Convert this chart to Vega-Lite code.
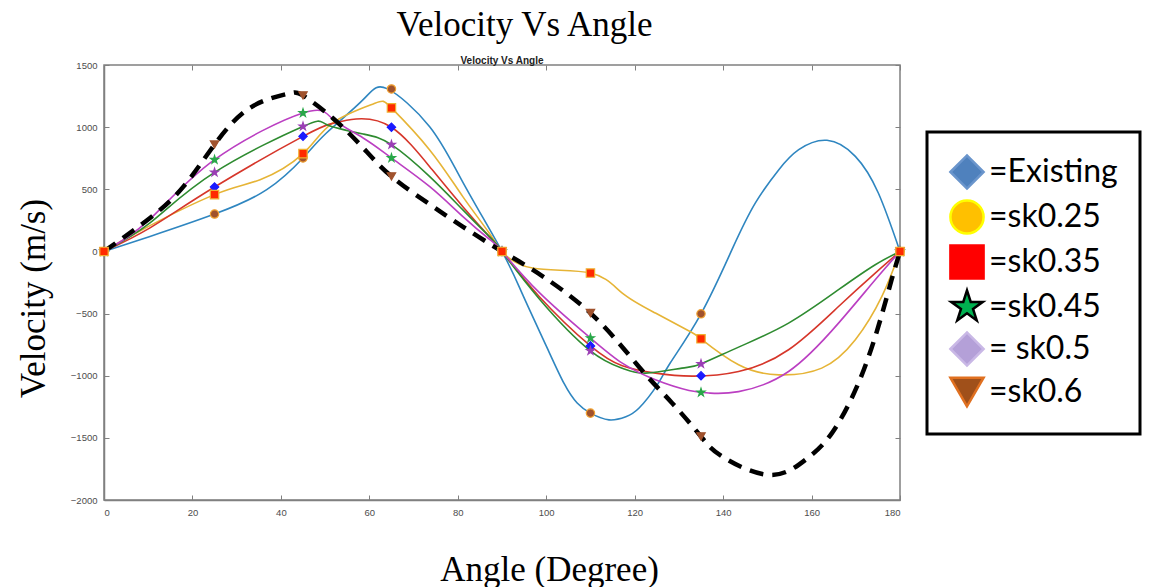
{
  "$schema": "https://vega.github.io/schema/vega-lite/v6.json",
  "width": 796,
  "height": 435,
  "autosize": "none",
  "padding": {"left": 104, "top": 65, "right": 260, "bottom": 87},
  "background": "white",
  "title": {
    "text": "Velocity Vs Angle",
    "font": "Liberation Sans",
    "fontSize": 10,
    "fontWeight": "bold",
    "color": "#222222",
    "offset": -69,
    "baseline": "bottom"
  },
  "config": {
    "view": {"stroke": "#808080", "strokeWidth": 1.5},
    "axis": {
      "domainColor": "#808080",
      "domainWidth": 1.5,
      "tickColor": "#808080",
      "tickWidth": 1,
      "tickSize": -5,
      "grid": false,
      "labelFont": "Liberation Sans",
      "labelFontSize": 9.5,
      "labelColor": "#4d4d4d",
      "labelPadding": 12,
      "titleFont": "Liberation Serif",
      "titleFontSize": 35,
      "titleFontWeight": "normal",
      "titleColor": "#000000"
    },
    "legend": {"strokeWidth": 3}
  },
  "datasets": {
    "lines": [
      {"curve": "blue", "angle": 0, "v": 0}, {"curve": "blue", "angle": 10.4, "v": 121}, {"curve": "blue", "angle": 25, "v": 301}, {"curve": "blue", "angle": 36.8, "v": 497}, {"curve": "blue", "angle": 45, "v": 752}, {"curve": "blue", "angle": 50.3, "v": 953}, {"curve": "blue", "angle": 58.6, "v": 1221}, {"curve": "blue", "angle": 64, "v": 1310}, {"curve": "blue", "angle": 73.6, "v": 1006}, {"curve": "blue", "angle": 81.1, "v": 560}, {"curve": "blue", "angle": 90, "v": 0}, {"curve": "blue", "angle": 94.7, "v": -350}, {"curve": "blue", "angle": 100, "v": -760}, {"curve": "blue", "angle": 104, "v": -1060}, {"curve": "blue", "angle": 107, "v": -1220}, {"curve": "blue", "angle": 110, "v": -1301}, {"curve": "blue", "angle": 114.2, "v": -1355}, {"curve": "blue", "angle": 118, "v": -1330}, {"curve": "blue", "angle": 121, "v": -1260}, {"curve": "blue", "angle": 125, "v": -1080}, {"curve": "blue", "angle": 128, "v": -900}, {"curve": "blue", "angle": 135, "v": -502}, {"curve": "blue", "angle": 142, "v": 14}, {"curve": "blue", "angle": 147.3, "v": 390}, {"curve": "blue", "angle": 152.6, "v": 658}, {"curve": "blue", "angle": 157.1, "v": 819}, {"curve": "blue", "angle": 163.5, "v": 894}, {"curve": "blue", "angle": 169.9, "v": 765}, {"curve": "blue", "angle": 175.1, "v": 470}, {"curve": "blue", "angle": 180, "v": 0},
      {"curve": "yellow", "angle": 0, "v": 0}, {"curve": "yellow", "angle": 7.9, "v": 161}, {"curve": "yellow", "angle": 25, "v": 457}, {"curve": "yellow", "angle": 35.3, "v": 577}, {"curve": "yellow", "angle": 45, "v": 787}, {"curve": "yellow", "angle": 51.7, "v": 1034}, {"curve": "yellow", "angle": 61, "v": 1189}, {"curve": "yellow", "angle": 65, "v": 1155}, {"curve": "yellow", "angle": 73.6, "v": 819}, {"curve": "yellow", "angle": 81.1, "v": 443}, {"curve": "yellow", "angle": 87.1, "v": 148}, {"curve": "yellow", "angle": 90, "v": 0}, {"curve": "yellow", "angle": 96.9, "v": -134}, {"curve": "yellow", "angle": 110, "v": -174}, {"curve": "yellow", "angle": 117.2, "v": -335}, {"curve": "yellow", "angle": 124.7, "v": -496}, {"curve": "yellow", "angle": 132.3, "v": -640}, {"curve": "yellow", "angle": 135, "v": -703}, {"curve": "yellow", "angle": 143.5, "v": -912}, {"curve": "yellow", "angle": 152.6, "v": -993}, {"curve": "yellow", "angle": 162.3, "v": -939}, {"curve": "yellow", "angle": 169.9, "v": -711}, {"curve": "yellow", "angle": 175.9, "v": -362}, {"curve": "yellow", "angle": 180, "v": 0},
      {"curve": "red", "angle": 0, "v": 0}, {"curve": "red", "angle": 10.4, "v": 190}, {"curve": "red", "angle": 25, "v": 518}, {"curve": "red", "angle": 45, "v": 926}, {"curve": "red", "angle": 51.7, "v": 1030}, {"curve": "red", "angle": 57, "v": 1066}, {"curve": "red", "angle": 65, "v": 999}, {"curve": "red", "angle": 73.6, "v": 684}, {"curve": "red", "angle": 81.1, "v": 362}, {"curve": "red", "angle": 87.1, "v": 121}, {"curve": "red", "angle": 90, "v": 0}, {"curve": "red", "angle": 98.4, "v": -362}, {"curve": "red", "angle": 110, "v": -760}, {"curve": "red", "angle": 117.2, "v": -920}, {"curve": "red", "angle": 124.7, "v": -979}, {"curve": "red", "angle": 133, "v": -1003}, {"curve": "red", "angle": 143.5, "v": -966}, {"curve": "red", "angle": 154.8, "v": -791}, {"curve": "red", "angle": 166.1, "v": -443}, {"curve": "red", "angle": 174.4, "v": -174}, {"curve": "red", "angle": 180, "v": 0},
      {"curve": "green", "angle": 0, "v": 0}, {"curve": "green", "angle": 10.4, "v": 230}, {"curve": "green", "angle": 25, "v": 636}, {"curve": "green", "angle": 45, "v": 1006}, {"curve": "green", "angle": 50.3, "v": 1022}, {"curve": "green", "angle": 58.6, "v": 945}, {"curve": "green", "angle": 65, "v": 859}, {"curve": "green", "angle": 73.6, "v": 604}, {"curve": "green", "angle": 81.1, "v": 336}, {"curve": "green", "angle": 87.1, "v": 121}, {"curve": "green", "angle": 90, "v": 0}, {"curve": "green", "angle": 98.4, "v": -380}, {"curve": "green", "angle": 110, "v": -800}, {"curve": "green", "angle": 117.2, "v": -939}, {"curve": "green", "angle": 122.5, "v": -979}, {"curve": "green", "angle": 130.7, "v": -939}, {"curve": "green", "angle": 135, "v": -905}, {"curve": "green", "angle": 143.5, "v": -770}, {"curve": "green", "angle": 154.8, "v": -577}, {"curve": "green", "angle": 166.1, "v": -308}, {"curve": "green", "angle": 174.4, "v": -107}, {"curve": "green", "angle": 180, "v": 0},
      {"curve": "magenta", "angle": 0, "v": 0}, {"curve": "magenta", "angle": 10.4, "v": 260}, {"curve": "magenta", "angle": 25, "v": 738}, {"curve": "magenta", "angle": 45, "v": 1114}, {"curve": "magenta", "angle": 51.7, "v": 1066}, {"curve": "magenta", "angle": 58.6, "v": 913}, {"curve": "magenta", "angle": 65, "v": 752}, {"curve": "magenta", "angle": 73.6, "v": 523}, {"curve": "magenta", "angle": 81.1, "v": 282}, {"curve": "magenta", "angle": 87.1, "v": 100}, {"curve": "magenta", "angle": 90, "v": 0}, {"curve": "magenta", "angle": 98.4, "v": -330}, {"curve": "magenta", "angle": 110, "v": -697}, {"curve": "magenta", "angle": 117.2, "v": -899}, {"curve": "magenta", "angle": 124.7, "v": -1033}, {"curve": "magenta", "angle": 132.3, "v": -1119}, {"curve": "magenta", "angle": 137, "v": -1140}, {"curve": "magenta", "angle": 143.5, "v": -1128}, {"curve": "magenta", "angle": 154.8, "v": -966}, {"curve": "magenta", "angle": 166.1, "v": -577}, {"curve": "magenta", "angle": 174.4, "v": -228}, {"curve": "magenta", "angle": 180, "v": 0},
      {"curve": "black", "angle": 0, "v": 0}, {"curve": "black", "angle": 10.4, "v": 269}, {"curve": "black", "angle": 18, "v": 523}, {"curve": "black", "angle": 25, "v": 860}, {"curve": "black", "angle": 33, "v": 1155}, {"curve": "black", "angle": 41.5, "v": 1268}, {"curve": "black", "angle": 45, "v": 1255}, {"curve": "black", "angle": 51.7, "v": 1074}, {"curve": "black", "angle": 58.6, "v": 833}, {"curve": "black", "angle": 65, "v": 604}, {"curve": "black", "angle": 73.6, "v": 380}, {"curve": "black", "angle": 81.1, "v": 200}, {"curve": "black", "angle": 90, "v": 0}, {"curve": "black", "angle": 96.9, "v": -147}, {"curve": "black", "angle": 110, "v": -496}, {"curve": "black", "angle": 121, "v": -930}, {"curve": "black", "angle": 128.5, "v": -1221}, {"curve": "black", "angle": 135, "v": -1489}, {"curve": "black", "angle": 139.8, "v": -1650}, {"curve": "black", "angle": 150.3, "v": -1798}, {"curve": "black", "angle": 158.6, "v": -1677}, {"curve": "black", "angle": 164.6, "v": -1462}, {"curve": "black", "angle": 170.6, "v": -1060}, {"curve": "black", "angle": 175.1, "v": -604}, {"curve": "black", "angle": 178.1, "v": -228}, {"curve": "black", "angle": 180, "v": 0}
    ],
    "markers": [
      {"series": "Existing", "angle": 0, "v": 0}, {"series": "Existing", "angle": 25, "v": 518}, {"series": "Existing", "angle": 45, "v": 926}, {"series": "Existing", "angle": 65, "v": 999}, {"series": "Existing", "angle": 90, "v": 0}, {"series": "Existing", "angle": 110, "v": -760}, {"series": "Existing", "angle": 135, "v": -1001}, {"series": "Existing", "angle": 180, "v": 0},
      {"series": "sk0.45", "angle": 0, "v": 0}, {"series": "sk0.45", "angle": 25, "v": 738}, {"series": "sk0.45", "angle": 45, "v": 1114}, {"series": "sk0.45", "angle": 65, "v": 752}, {"series": "sk0.45", "angle": 90, "v": 0}, {"series": "sk0.45", "angle": 110, "v": -697}, {"series": "sk0.45", "angle": 135, "v": -1135}, {"series": "sk0.45", "angle": 180, "v": 0},
      {"series": "sk0.5", "angle": 0, "v": 0}, {"series": "sk0.5", "angle": 25, "v": 636}, {"series": "sk0.5", "angle": 45, "v": 1006}, {"series": "sk0.5", "angle": 65, "v": 859}, {"series": "sk0.5", "angle": 90, "v": 0}, {"series": "sk0.5", "angle": 110, "v": -800}, {"series": "sk0.5", "angle": 135, "v": -905}, {"series": "sk0.5", "angle": 180, "v": 0},
      {"series": "sk0.6", "angle": 0, "v": 0}, {"series": "sk0.6", "angle": 25, "v": 860}, {"series": "sk0.6", "angle": 45, "v": 1255}, {"series": "sk0.6", "angle": 65, "v": 604}, {"series": "sk0.6", "angle": 90, "v": 0}, {"series": "sk0.6", "angle": 110, "v": -496}, {"series": "sk0.6", "angle": 135, "v": -1489}, {"series": "sk0.6", "angle": 180, "v": 0},
      {"series": "sk0.25", "angle": 0, "v": 0}, {"series": "sk0.25", "angle": 25, "v": 301}, {"series": "sk0.25", "angle": 45, "v": 752}, {"series": "sk0.25", "angle": 65, "v": 1307}, {"series": "sk0.25", "angle": 90, "v": 0}, {"series": "sk0.25", "angle": 110, "v": -1301}, {"series": "sk0.25", "angle": 135, "v": -502}, {"series": "sk0.25", "angle": 180, "v": 0},
      {"series": "sk0.35", "angle": 0, "v": 0}, {"series": "sk0.35", "angle": 25, "v": 457}, {"series": "sk0.35", "angle": 45, "v": 787}, {"series": "sk0.35", "angle": 65, "v": 1155}, {"series": "sk0.35", "angle": 90, "v": 0}, {"series": "sk0.35", "angle": 110, "v": -174}, {"series": "sk0.35", "angle": 135, "v": -703}, {"series": "sk0.35", "angle": 180, "v": 0}
    ]
  },
  "resolve": {
    "axis": {"x": "independent", "y": "independent"},
    "scale": {"shape": "independent", "fill": "independent", "stroke": "independent"}
  },
  "layer": [
    {
      "data": {"name": "lines"},
      "transform": [{"filter": "datum.curve !== 'black'"}],
      "mark": {"type": "line", "interpolate": "natural", "strokeWidth": 1.6},
      "encoding": {
        "x": {"field": "angle", "type": "quantitative", "scale": {"domain": [0, 180], "nice": false, "zero": false},
          "axis": {"values": [0, 20, 40, 60, 80, 100, 120, 140, 160, 180], "title": "Angle (Degree)", "titleX": 445, "titleY": 80, "titleBaseline": "alphabetic", "titleAnchor": null, "titleAlign": "center"}},
        "y": {"field": "v", "type": "quantitative", "scale": {"domain": [-2000, 1500], "nice": false, "zero": false},
          "axis": {"values": [-2000, -1500, -1000, -500, 0, 500, 1000, 1500], "format": "d", "title": "Velocity (m/s)", "titleX": -60, "titleY": 233, "titleAngle": -90, "titleBaseline": "alphabetic", "titleAlign": "center"}},
        "color": {"field": "curve", "type": "nominal", "legend": null,
          "scale": {"domain": ["blue", "yellow", "red", "green", "magenta", "black"], "range": ["#2f86c0", "#e6b436", "#d6362a", "#2e8b30", "#bb3fc2", "#000000"]}},
        "detail": {"field": "curve"}
      }
    },
    {
      "data": {"name": "lines"},
      "transform": [{"filter": "datum.curve === 'black'"}],
      "mark": {"type": "line", "interpolate": "natural", "strokeWidth": 4.5, "strokeDash": [14, 9], "color": "#000000"},
      "encoding": {
        "x": {"field": "angle", "type": "quantitative", "scale": {"domain": [0, 180], "nice": false, "zero": false},
          "axis": {"orient": "top", "values": [0, 20, 40, 60, 80, 100, 120, 140, 160, 180], "labels": false, "domain": false, "title": "Velocity Vs Angle", "titleX": 420, "titleY": -30, "titleBaseline": "alphabetic", "titleAlign": "center", "titleFontSize": 35}},
        "y": {"field": "v", "type": "quantitative", "scale": {"domain": [-2000, 1500], "nice": false, "zero": false},
          "axis": {"orient": "right", "values": [-2000, -1500, -1000, -500, 0, 500, 1000, 1500], "labels": false, "domain": false, "title": null}}
      }
    },
    {
      "data": {"name": "markers"},
      "mark": {"type": "point", "filled": true, "size": 1, "opacity": 1},
      "encoding": {
        "x": {"field": "angle", "type": "quantitative", "axis": null},
        "y": {"field": "v", "type": "quantitative", "axis": null},
        "shape": {"field": "series", "type": "nominal",
          "scale": {"domain": ["Existing", "sk0.25", "sk0.35", "sk0.45", "sk0.5", "sk0.6"],
            "range": ["diamond", "circle", "square", "M0,-1L0.2245,-0.309L0.9511,-0.309L0.3633,0.118L0.5878,0.809L0,0.382L-0.5878,0.809L-0.3633,0.118L-0.9511,-0.309L-0.2245,-0.309Z", "diamond", "triangle-down"]},
          "legend": {
            "orient": "none", "legendX": 823, "legendY": 67,
            "title": null,
            "labelExpr": "datum.value === 'sk0.5' ? '= sk0.5' : '=' + datum.value",
            "labelFont": "Lato", "labelFontSize": 32, "labelColor": "#000000", "labelOffset": 4, "labelLimit": 300,
            "symbolSize": 1100, "symbolStrokeWidth": 2.5, "rowPadding": 1, "padding": 22,
            "strokeColor": "#000000", "fillColor": "#ffffff"
          }
        },
        "fill": {"field": "series", "type": "nominal",
          "scale": {"domain": ["Existing", "sk0.25", "sk0.35", "sk0.45", "sk0.5", "sk0.6"], "range": ["#4f81bd", "#ffc000", "#ff0000", "#00b050", "#b4a0d8", "#a0501a"]}},
        "stroke": {"field": "series", "type": "nominal",
          "scale": {"domain": ["Existing", "sk0.25", "sk0.35", "sk0.45", "sk0.5", "sk0.6"], "range": ["#6a95cc", "#ffff00", "#ff0000", "#000000", "#c9b8e6", "#e07020"]}}
      }
    },
    {
      "data": {"name": "markers"},
      "mark": {"type": "point", "filled": true, "size": 70, "strokeWidth": 1.2, "opacity": 1},
      "encoding": {
        "x": {"field": "angle", "type": "quantitative", "axis": null},
        "y": {"field": "v", "type": "quantitative", "axis": null},
        "shape": {"field": "series", "type": "nominal", "legend": null,
          "scale": {"domain": ["Existing", "sk0.25", "sk0.35", "sk0.45", "sk0.5", "sk0.6"],
            "range": ["diamond", "circle", "square", "M0,-1L0.2245,-0.309L0.9511,-0.309L0.3633,0.118L0.5878,0.809L0,0.382L-0.5878,0.809L-0.3633,0.118L-0.9511,-0.309L-0.2245,-0.309Z", "M0,-1L0.2245,-0.309L0.9511,-0.309L0.3633,0.118L0.5878,0.809L0,0.382L-0.5878,0.809L-0.3633,0.118L-0.9511,-0.309L-0.2245,-0.309Z", "triangle-down"]}},
        "fill": {"field": "series", "type": "nominal", "legend": null,
          "scale": {"domain": ["Existing", "sk0.25", "sk0.35", "sk0.45", "sk0.5", "sk0.6"], "range": ["#1a1aff", "#a0522d", "#ff2a00", "#2aa84a", "#9b3fb5", "#a0522d"]}},
        "stroke": {"field": "series", "type": "nominal", "legend": null,
          "scale": {"domain": ["Existing", "sk0.25", "sk0.35", "sk0.45", "sk0.5", "sk0.6"], "range": ["#1a1aff", "#f0a030", "#f0b030", "#2aa84a", "#9b3fb5", "#a0522d"]}}
      }
    }
  ]
}
